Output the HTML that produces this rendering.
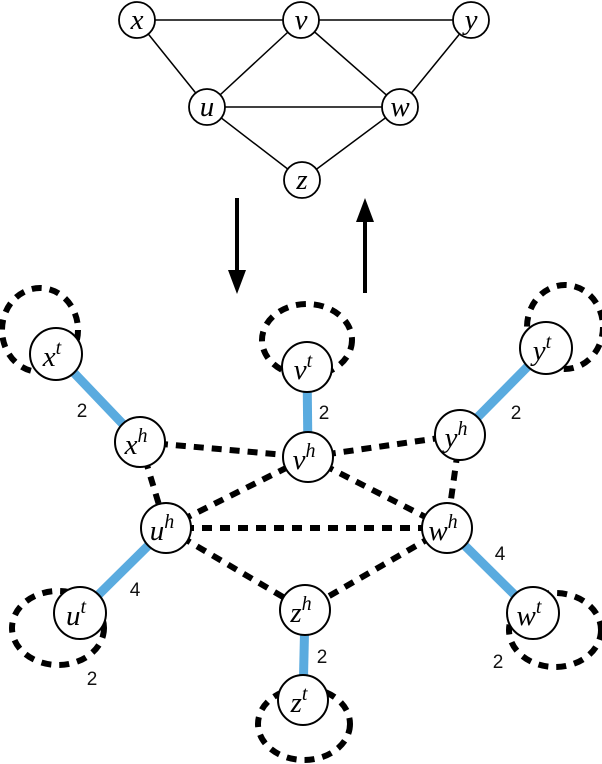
<!DOCTYPE html>
<html><head><meta charset="utf-8"><style>
html,body{margin:0;padding:0;background:#fff}
svg{display:block}
.m{font-family:"Liberation Serif",serif;font-style:italic;fill:#000}
.n{font-family:"Liberation Sans",sans-serif;font-size:19px;fill:#111}
</style></head><body>
<svg width="602" height="764" viewBox="0 0 602 764" xmlns="http://www.w3.org/2000/svg">
<g stroke="#000" stroke-width="1.5" fill="none">
<line x1="137" y1="20" x2="301" y2="20"/><line x1="301" y1="20" x2="471" y2="20"/>
<line x1="137" y1="20" x2="207" y2="107"/><line x1="301" y1="20" x2="207" y2="107"/>
<line x1="301" y1="20" x2="400" y2="107"/><line x1="471" y1="20" x2="400" y2="107"/>
<line x1="207" y1="107" x2="400" y2="107"/><line x1="207" y1="107" x2="302" y2="180"/>
<line x1="400" y1="107" x2="302" y2="180"/>
</g>
<g stroke="#000" stroke-width="1.8" fill="#fff">
<circle cx="137" cy="20" r="18"/><circle cx="301" cy="20" r="18"/><circle cx="471" cy="20" r="18"/>
<circle cx="207" cy="107" r="18"/><circle cx="400" cy="107" r="18"/><circle cx="302" cy="180" r="18"/>
</g>
<g class="m" font-size="29" text-anchor="middle">
<text x="137" y="29">x</text><text x="301" y="29">v</text><text x="471" y="29">y</text>
<text x="207" y="116">u</text><text x="400" y="116">w</text><text x="302" y="189">z</text>
</g>
<line x1="237" y1="198" x2="237" y2="275" stroke="#000" stroke-width="4"/>
<polygon points="228,270 246,270 237,294" fill="#000"/>
<line x1="365" y1="293" x2="365" y2="216" stroke="#000" stroke-width="4"/>
<polygon points="356,222 374,222 365,198" fill="#000"/>
<g stroke="#000" stroke-width="6" fill="none" stroke-dasharray="10,8">
<ellipse cx="40" cy="330" rx="38" ry="42"/>
<ellipse cx="307" cy="340" rx="45" ry="36"/>
<ellipse cx="565" cy="327" rx="38" ry="42"/>
<ellipse cx="58" cy="628" rx="46" ry="37"/>
<ellipse cx="555" cy="630" rx="46" ry="37"/>
<ellipse cx="304" cy="724" rx="46" ry="36"/>
</g>
<g stroke="#5aabdf" stroke-width="9">
<line x1="56" y1="354" x2="140" y2="442"/>
<line x1="307" y1="367" x2="308" y2="457"/>
<line x1="546" y1="348" x2="460" y2="435"/>
<line x1="166" y1="528" x2="80" y2="613"/>
<line x1="447" y1="528" x2="533" y2="613"/>
<line x1="305" y1="610" x2="303" y2="700"/>
</g>
<g stroke="#000" stroke-width="6" stroke-dasharray="10,8">
<line x1="140" y1="442" x2="308" y2="457"/>
<line x1="308" y1="457" x2="460" y2="435"/>
<line x1="140" y1="442" x2="166" y2="528"/>
<line x1="460" y1="435" x2="447" y2="528"/>
<line x1="166" y1="528" x2="308" y2="457"/>
<line x1="308" y1="457" x2="447" y2="528"/>
<line x1="166" y1="528" x2="447" y2="528"/>
<line x1="166" y1="528" x2="305" y2="610"/>
<line x1="447" y1="528" x2="305" y2="610"/>
</g>
<g stroke="#000" stroke-width="2" fill="#fff">
<circle cx="56" cy="354" r="26"/><circle cx="307" cy="367" r="25"/><circle cx="546" cy="348" r="26"/>
<circle cx="140" cy="442" r="25"/><circle cx="308" cy="457" r="25"/><circle cx="460" cy="435" r="25"/>
<circle cx="166" cy="528" r="25"/><circle cx="447" cy="528" r="25"/>
<circle cx="80" cy="613" r="26"/><circle cx="305" cy="610" r="25"/><circle cx="533" cy="613" r="26"/>
<circle cx="303" cy="700" r="25"/>
</g>
<g class="m" font-size="29" text-anchor="middle">
<text x="52" y="366">x<tspan font-size="20" dy="-12">t</tspan></text>
<text x="303" y="379">v<tspan font-size="20" dy="-12">t</tspan></text>
<text x="542" y="360">y<tspan font-size="20" dy="-12">t</tspan></text>
<text x="136" y="454">x<tspan font-size="20" dy="-12">h</tspan></text>
<text x="304" y="469">v<tspan font-size="20" dy="-12">h</tspan></text>
<text x="456" y="447">y<tspan font-size="20" dy="-12">h</tspan></text>
<text x="162" y="540">u<tspan font-size="20" dy="-12">h</tspan></text>
<text x="443" y="540">w<tspan font-size="20" dy="-12">h</tspan></text>
<text x="76" y="625">u<tspan font-size="20" dy="-12">t</tspan></text>
<text x="301" y="622">z<tspan font-size="20" dy="-12">h</tspan></text>
<text x="529" y="625">w<tspan font-size="20" dy="-12">t</tspan></text>
<text x="299" y="712">z<tspan font-size="20" dy="-12">t</tspan></text>
</g>
<g class="n" text-anchor="middle">
<text x="82" y="417">2</text>
<text x="324" y="419">2</text>
<text x="516" y="419">2</text>
<text x="135" y="596">4</text>
<text x="500" y="560">4</text>
<text x="92" y="685">2</text>
<text x="498" y="668">2</text>
<text x="322" y="663">2</text>
</g>
</svg>
</body></html>
